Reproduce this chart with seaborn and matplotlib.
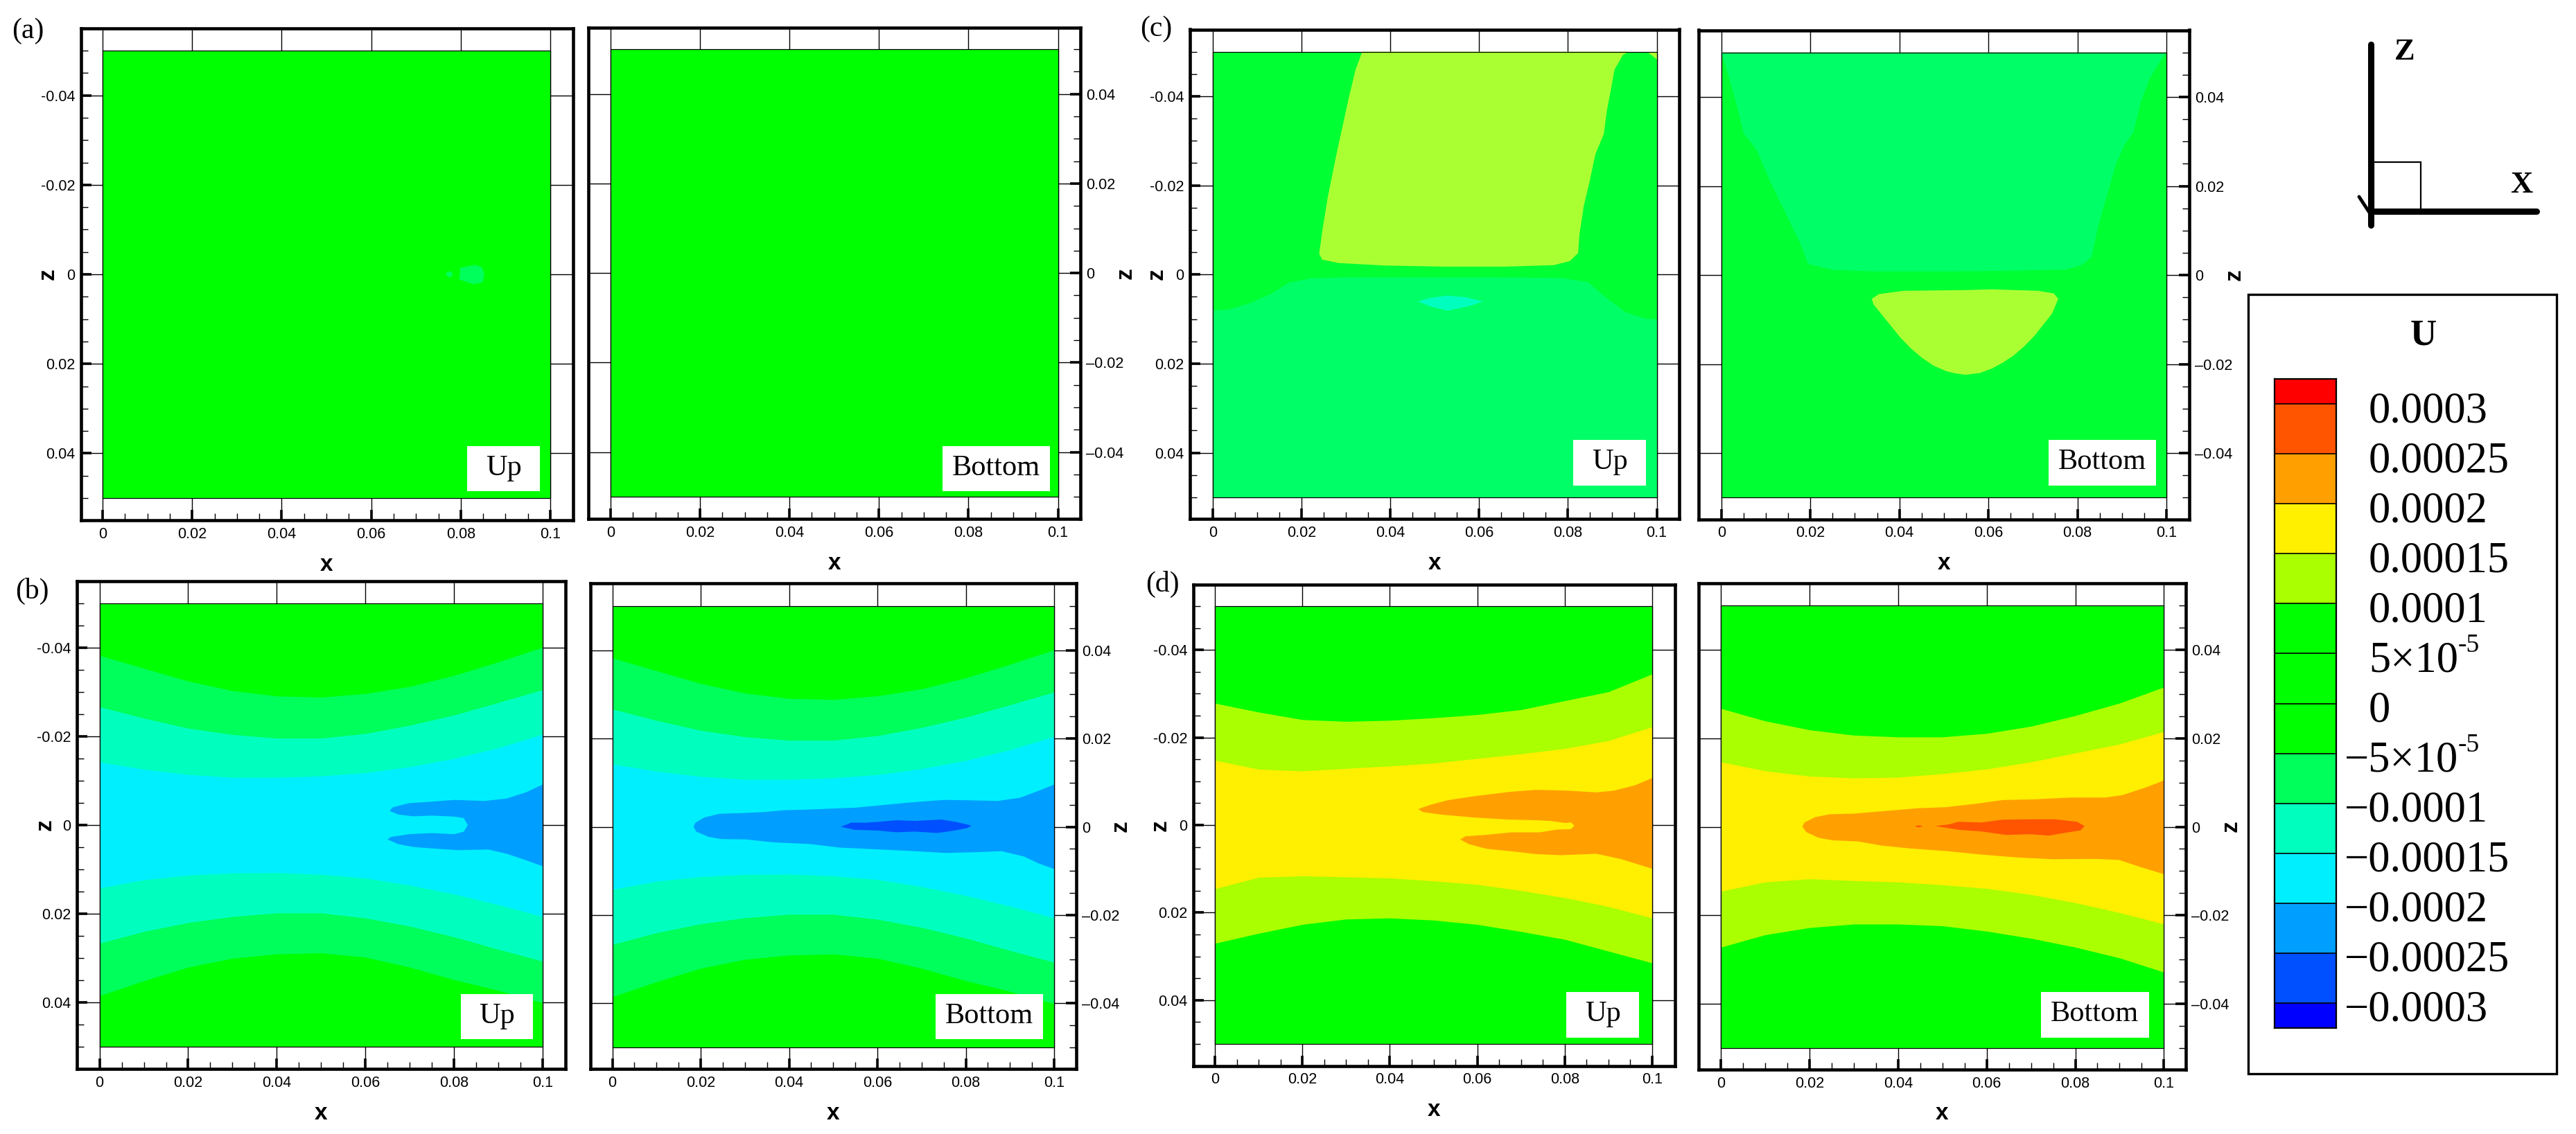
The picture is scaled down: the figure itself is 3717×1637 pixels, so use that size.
import numpy as np
import matplotlib
matplotlib.use("Agg")
import matplotlib.pyplot as plt
from matplotlib.colors import ListedColormap
from matplotlib.patches import Rectangle
from matplotlib.ticker import FixedLocator, FixedFormatter
import seaborn as sns

# ---------- data ----------
stations = [0, .01, .02, .03, .04, .05, .06, .07, .08, .09, .10]

b_outer_up = [-.03825, -.03535, -.03246, -.0303, -.0291, -.02884, -.02965, -.03125, -.03375, -.0368, -.0401]
b_mid_up = [-.02667, -.0241, -.02184, -.0204, -.0196, -.0196, -.02064, -.02249, -.02482, -.02763, -.03053]
b_inner_up = [-.0142, -.0126, -.01138, -.01074, -.01074, -.01106, -.01179, -.01315, -.015, -.01742, -.02048]
b_inner_lo = [.0142, .01235, .0113, .01082, .01074, .01114, .01195, .01356, .01557, .01798, .02064]
b_mid_lo = [.02667, .02401, .022, .02063, .01983, .01983, .02096, .02281, .02522, .02804, .03069]
b_outer_lo = [.0385, .03512, .03206, .03005, .02908, .02884, .0298, .03206, .03488, .0373, .0401]

b_up_blob_x = [.1, .0962, .0919, .0869, .0801, .075, .0699, .0661, .0655, .0674, .0708, .075, .0801, .0822, .0831, .0822, .0801, .075, .0699, .0657, .065, .0674, .0708, .075, .0809, .0877, .0919, .0962, .1]
b_up_blob_z = [-.00913, -.00736, -.00599, -.00543, -.00567, -.00527, -.00495, -.00398, -.00318, -.00237, -.00197, -.00213, -.00189, -.00157, 0, .00149, .00205, .00181, .00205, .0027, .00326, .0043, .00495, .00527, .00567, .00551, .00648, .00792, .00929]

b_bot_blob_x = [.1, .0966, .0923, .0872, .0804, .0753, .0685, .0617, .0549, .0507, .0447, .0388, .0345, .0294, .0243, .0209, .0188, .0184, .019, .0218, .0247, .0303, .0362, .0447, .0515, .06, .0685, .0753, .0821, .0881, .0932, .0966, .1]
b_bot_blob_z = [-.00956, -.00819, -.00658, -.00585, -.00601, -.00609, -.00561, -.00496, -.00432, -.00416, -.00391, -.00375, -.00335, -.00311, -.00295, -.00214, -.00093, 0, .00109, .0023, .00278, .00287, .00351, .00391, .00472, .00512, .00553, .00593, .00577, .00553, .00674, .00835, .00956]
b_bot_core_x = [.0517, .0541, .0575, .0609, .0643, .0685, .0745, .0779, .0813, .0804, .077, .0736, .0685, .0643, .06, .0549]
b_bot_core_z = [0, -.00093, -.00093, -.00117, -.00149, -.00133, -.00165, -.00109, -.00028, .00028, .00093, .00141, .00109, .00125, .00085, .00069]

a_blob_x = [.0799, .0833, .0848, .0853, .0849, .0828, .0797]
a_blob_z = [-.00148, -.00213, -.00148, 0, .0018, .00221, .00115]
a_dot_x = [.0766, .0777, .0783, .0776, .0768]
a_dot_z = [-.00025, -.00074, -.00008, .00082, .00016]

c_up_low_x = [0, .0036, .0084, .0131, .0171, .0219, .0307, .0466, .0625, .0784, .0844, .088, .0928, .0975, .1]
c_up_low_z = [.00794, .00778, .0063, .00424, .00177, .00078, .00053, .00053, .00053, .0007, .0016, .00465, .00835, .00984, .01]
c_up_high_x = [.0337, .0322, .0307, .0279, .0259, .0247, .024, .0247, .0283, .0386, .0522, .0657, .0768, .0804, .0823, .0826, .0836, .0848, .0862, .0881, .0888, .0896, .0905, .0924, .0937]
c_up_high_z = [-.05, -.04597, -.03979, -.02704, -.01716, -.00975, -.00465, -.00333, -.00259, -.00202, -.00177, -.00177, -.0021, -.003, -.00481, -.00893, -.01551, -.02045, -.02704, -.03156, -.03691, -.04103, -.04597, -.04926, -.05]
c_up_corner_x = [.0979, .1, .1]
c_up_corner_z = [-.05, -.05, -.0483]
c_up_spot_x = [.0462, .049, .0529, .0569, .0609, .0577, .0529, .049]
c_up_spot_z = [.00605, .00523, .00473, .00506, .00605, .00712, .00811, .00712]

c_bot_top_x = [0, .1, .0982, .0962, .0942, .0926, .0906, .0886, .0867, .0848, .0832, .0811, .0775, .0664, .0505, .0346, .0251, .0195, .0176, .014, .0108, .008, .0051, .0033, .0017]
c_bot_top_z = [-.05, -.05, -.04737, -.04407, -.03871, -.03213, -.02924, -.02471, -.01812, -.01153, -.00412, -.00231, -.00124, -.00099, -.00082, -.00082, -.00115, -.00247, -.00741, -.01483, -.02142, -.02801, -.03171, -.03871, -.04448]
c_bot_lens_x = [.0338, .0354, .041, .0545, .0608, .0712, .0747, .0757, .0743, .0704, .068, .0656, .0632, .0608, .0581, .0549, .0525, .0505, .0477, .045, .0426, .0402, .0382, .0362, .0342]
c_bot_lens_z = [.00535, .00428, .00354, .00338, .00321, .00354, .00412, .00535, .00865, .01359, .01606, .01812, .0197, .021, .022, .0224, .02207, .02158, .02035, .01853, .01647, .014, .01153, .00906, .00659]

d1_outer_up = [-.02783, -.0258, -.02408, -.02367, -.02392, -.02449, -.02522, -.02636, -.0284, -.03044, -.03451]
d1_inner_up = [-.01479, -.01276, -.01235, -.01292, -.01349, -.01414, -.0152, -.01626, -.01748, -.01928, -.02245]
d1_inner_lo = [.01455, .01194, .01161, .01186, .0121, .01276, .01357, .01496, .01659, .01862, .02123]
d1_outer_lo = [.02702, .02473, .0227, .02148, .02123, .02172, .0227, .02433, .02612, .02881, .0315]
d1_blob_x = [.1, .0961, .0913, .0872, .0807, .0735, .0678, .0597, .0532, .0492, .0465, .0476, .0516, .0589, .067, .0735, .0767, .0803, .0814, .0822, .0814, .0783, .0743, .0678, .0629, .0573, .0561, .0581, .0621, .0678, .0735, .0791, .0872, .0929, .1]
d1_blob_z = [-.01072, -.00909, -.00786, -.00746, -.00786, -.00803, -.00762, -.00664, -.00566, -.0046, -.00363, -.00297, -.0024, -.00175, -.00126, -.0011, -.00094, -.00045, -.00061, .00012, .00094, .00102, .00167, .00167, .00216, .00257, .0033, .00436, .00542, .00599, .00664, .00689, .00656, .00778, .00998]

d2_outer_up = [-.02673, -.02391, -.0219, -.02069, -.02029, -.02029, -.0211, -.02271, -.02512, -.02794, -.03156]
d2_inner_up = [-.01465, -.01264, -.01143, -.01103, -.01119, -.012, -.01304, -.01465, -.01667, -.01868, -.0215]
d2_inner_lo = [.01457, .01248, .01176, .01216, .01248, .01312, .01393, .0153, .01715, .0194, .02198]
d2_outer_lo = [.02721, .0244, .02279, .02198, .02198, .02238, .02359, .0252, .02721, .02963, .03285]
d2_blob_x = [.1, .0963, .0907, .0868, .0788, .0708, .0636, .0572, .0508, .0445, .0397, .0349, .0301, .0245, .0213, .0189, .0184, .0193, .0221, .0253, .0309, .0365, .0429, .0508, .0588, .0668, .0748, .0844, .0899, .0947, .1]
d2_blob_z = [-.01047, -.00902, -.00717, -.0066, -.0066, -.0062, -.00604, -.00515, -.00443, -.00419, -.00378, -.00338, -.00298, -.00282, -.00217, -.00097, -.00008, .00121, .0025, .00306, .0033, .00427, .00491, .00548, .00628, .00692, .00733, .00725, .00749, .0091, .01071]
d2_core_x = [.0484, .0516, .0536, .0588, .0636, .07, .0756, .0804, .0821, .0812, .0772, .074, .07, .0644, .0588, .054, .05]
d2_core_z = [-.00016, -.00056, -.00113, -.00097, -.00161, -.00169, -.00169, -.00113, -.00016, .00081, .00145, .00201, .00169, .00185, .00105, .00072, .00008]
d2_fleck_x = [.0438, .0446, .0457, .0446]
d2_fleck_z = [-.00016, -.00032, -.00016, .00016]

x_major = [0, .02, .04, .06, .08, .1]
x_labels = ["0", "0.02", "0.04", "0.06", "0.08", "0.1"]
x_minor = [.005, .01, .015, .025, .03, .035, .045, .05, .055, .065, .07, .075, .085, .09, .095]
z_major = [-.04, -.02, 0, .02, .04]
z_labels_left = ["-0.04", "-0.02", "0", "0.02", "0.04"]
z_labels_right = ["0.04", "0.02", "0", "\u20130.02", "\u20130.04"]
z_minor = [-.05, -.035, -.03, -.025, -.045, -.015, -.01, -.005, .005, .01, .015, .025, .03, .035, .045, .05]

legend_title = "U"
legend_labels = ["0.0003", "0.00025", "0.0002", "0.00015", "0.0001", "5\u00d710", "0",
                 "\u22125\u00d710", "\u22120.0001", "\u22120.00015", "\u22120.0002", "\u22120.00025", "\u22120.0003"]
legend_colors = ["#FF0000", "#FF5500", "#FFA000", "#FFF000", "#AAFF00", "#00FF00", "#00FF00", "#00FF00",
                 "#00FF5A", "#00FFBF", "#00EFFF", "#009FFF", "#0050FF", "#0000FF"]
legend_spans = [1, 2, 2, 2, 2, 2, 2, 2, 2, 2, 2, 2, 2, 1]

# ---------- style ----------
sns.set_theme(style="ticks")
plt.rcParams["font.family"] = ["Liberation Sans", "DejaVu Sans"]
SERIF = ["Liberation Serif", "DejaVu Serif"]
G0, G1, G2, G3 = "#00FF00", "#00FF5A", "#00FFBF", "#00EFFF"
B1, B2 = "#009FFF", "#0050FF"
CG, CL, CY = "#00FF33", "#00FF66", "#AAFF33"
Y1, Y2, Y3, Y4 = "#AAFF00", "#FFEF00", "#FFA000", "#FF5500"

W, H = 3717, 1637
fig = plt.figure(figsize=(W / 100, H / 100), dpi=100, facecolor="white")


def make_panel(frame, data, side, zlabel_gap):
    l, t, r, b = frame
    dl, dt, dr, db = data
    ax = fig.add_axes([l / W, 1 - b / H, (r - l) / W, (b - t) / H])
    ax.set_xlim(-(dl - l) / (dr - dl) * .1, .1 + (r - dr) / (dr - dl) * .1)
    ax.set_ylim(.05 + (b - db) / (db - dt) * .1, -.05 - (dt - t) / (db - dt) * .1)
    ax.set_axisbelow(True)
    ax.grid(True, which="major", color="black", lw=1.0)
    ax.xaxis.set_major_locator(FixedLocator(x_major))
    ax.xaxis.set_major_formatter(FixedFormatter(x_labels))
    ax.xaxis.set_minor_locator(FixedLocator(x_minor))
    ax.yaxis.set_major_locator(FixedLocator(z_major))
    ax.yaxis.set_major_formatter(FixedFormatter(z_labels_left if side == "left" else z_labels_right))
    ax.yaxis.set_minor_locator(FixedLocator(z_minor))
    ax.tick_params(axis="x", which="major", direction="in", length=11, width=2.6, pad=7, labelsize=15.5, top=False, bottom=True, colors="black")
    ax.tick_params(axis="x", which="minor", direction="in", length=7, width=1.0, top=False, bottom=True, colors="black")
    ax.tick_params(axis="y", which="major", direction="in", length=11, width=2.6, pad=6, labelsize=15.5, colors="black",
                   left=side == "left", right=side == "right", labelleft=side == "left", labelright=side == "right")
    ax.tick_params(axis="y", which="minor", direction="in", length=7, width=1.0, colors="black",
                   left=side == "left", right=side == "right")
    for s in ax.spines.values():
        s.set_linewidth(3.3)
        s.set_color("black")
    ax.text(.5, -64 / (b - t), "x", transform=ax.transAxes, ha="center", va="center", fontsize=24, fontweight="bold", color="black")
    zx = -zlabel_gap / (r - l) if side == "left" else 1 + zlabel_gap / (r - l)
    ax.text(zx, .5, "z", transform=ax.transAxes, rotation=90, ha="center", va="center", fontsize=24, fontweight="bold", color="black")
    return ax


def base(ax, color):
    ax.fill_between([0, .1], -.05, .05, color=color, lw=0, zorder=2)
    ax.add_patch(Rectangle((0, -.05), .1, .1, fill=False, ec="black", lw=0.9, zorder=6))


def band(ax, up, lo, color):
    ax.fill_between(stations, up, lo, color=color, lw=0, zorder=3)


def poly(ax, xs, zs, color, z=4):
    ax.fill(xs, zs, color=color, lw=0, zorder=z)


# (a)
ax = make_panel((116.5, 41, 826.5, 751), (148, 73, 794, 719), "left", 47)
base(ax, G0)
poly(ax, a_blob_x, a_blob_z, G1)
poly(ax, a_dot_x, a_dot_z, G1)
ax = make_panel((849, 40, 1559, 749), (881, 71, 1526.5, 717.3), "right", 65)
base(ax, G0)

# (b)
ax = make_panel((111, 839, 816, 1543), (143.6, 871, 783, 1511), "left", 46)
base(ax, G0)
band(ax, b_outer_up, b_outer_lo, G1)
band(ax, b_mid_up, b_mid_lo, G2)
band(ax, b_inner_up, b_inner_lo, G3)
poly(ax, b_up_blob_x, b_up_blob_z, B1)
ax = make_panel((851.5, 842, 1553, 1543), (883.5, 875, 1521, 1512), "right", 64)
base(ax, G0)
band(ax, b_outer_up, b_outer_lo, G1)
band(ax, b_mid_up, b_mid_lo, G2)
band(ax, b_inner_up, b_inner_lo, G3)
poly(ax, b_bot_blob_x, b_bot_blob_z, B1)
poly(ax, b_bot_core_x, b_bot_core_z, B2, 5)

# (c)
ax = make_panel((1716.5, 42.5, 2423, 749), (1749.7, 74.6, 2390.5, 718), "left", 47)
base(ax, CG)
ax.fill_between(c_up_low_x, c_up_low_z, .05, color=CL, lw=0, zorder=3)
poly(ax, c_up_high_x, c_up_high_z, CY)
poly(ax, c_up_corner_x, c_up_corner_z, CY)
poly(ax, c_up_spot_x, c_up_spot_z, G2)
ax = make_panel((2451, 43.5, 3159, 749.5), (2483.7, 75.7, 3126, 718.4), "right", 65)
base(ax, CG)
poly(ax, c_bot_top_x, c_bot_top_z, CL)
poly(ax, c_bot_lens_x, c_bot_lens_z, CY)

# (d)
ax = make_panel((1721.6, 844.4, 2417, 1538.7), (1753, 875, 2384, 1507), "left", 47)
base(ax, G0)
band(ax, d1_outer_up, d1_outer_lo, Y1)
band(ax, d1_inner_up, d1_inner_lo, Y2)
poly(ax, d1_blob_x, d1_blob_z, Y3)
ax = make_panel((2451, 842, 3154, 1544), (2483, 874, 3122.4, 1513), "right", 65)
base(ax, G0)
band(ax, d2_outer_up, d2_outer_lo, Y1)
band(ax, d2_inner_up, d2_inner_lo, Y2)
poly(ax, d2_blob_x, d2_blob_z, Y3)
poly(ax, d2_core_x, d2_core_z, Y4, 5)
poly(ax, d2_fleck_x, d2_fleck_z, Y4, 5)

# overlay in page pixels
ov = fig.add_axes([0, 0, 1, 1], zorder=10)
ov.set_xlim(0, W)
ov.set_ylim(H, 0)
ov.axis("off")
ov.patch.set_alpha(0)

for txt, x, y in [("(a)", 40, 45), ("(b)", 46, 853), ("(c)", 1668, 42), ("(d)", 1677, 843)]:
    ov.text(x, y, txt, ha="center", va="center", fontsize=30, family=SERIF, color="black")

boxes = [("Up", 674, 644, 779, 709), ("Bottom", 1360, 644, 1515, 709),
         ("Up", 664.5, 1435, 769, 1500), ("Bottom", 1350, 1435, 1504.6, 1500),
         ("Up", 2270, 635, 2375, 701), ("Bottom", 2955.6, 635, 3110.7, 701),
         ("Up", 2260, 1431.6, 2365, 1497.5), ("Bottom", 2945, 1431.6, 3100.5, 1497.5)]
for txt, x0, y0, x1, y1 in boxes:
    ov.add_patch(Rectangle((x0, y0), x1 - x0, y1 - y0, fc="white", ec="none"))
    ov.text((x0 + x1) / 2, (y0 + y1) / 2 - 1, txt, ha="center", va="center", fontsize=30.5, family=SERIF, color="black")

# coordinate triad
ov.plot([3421, 3421], [64, 325], color="black", lw=6.5, solid_capstyle="round")
ov.plot([3421, 3660], [305, 305], color="black", lw=6.5, solid_capstyle="round")
ov.add_patch(Rectangle((3425, 234), 68, 71, fill=False, ec="black", lw=1.6))
ov.plot([3404, 3421], [284, 310], color="black", lw=3.5)
ov.text(3470, 75, "Z", ha="center", va="center", fontsize=32, fontweight="bold", family=SERIF, color="black")
ov.text(3638, 267, "X", ha="center", va="center", fontsize=32, fontweight="bold", family=SERIF, color="black")

# legend
ov.add_patch(Rectangle((3244, 425), 445, 1125, fc="none", ec="black", lw=2.4))
ov.text(3497, 485, legend_title, ha="center", va="center", fontsize=38, fontweight="bold", family=SERIF, color="black")
l0, t0, r0, b0 = 3281.5, 547, 3371, 1484
cax = fig.add_axes([l0 / W, 1 - b0 / H, (r0 - l0) / W, (b0 - t0) / H], zorder=11)
cells = np.repeat(np.arange(len(legend_colors)), legend_spans).reshape(-1, 1)
sns.heatmap(cells, cmap=ListedColormap(legend_colors), vmin=-.5, vmax=len(legend_colors) - .5,
            cbar=False, xticklabels=False, yticklabels=False, ax=cax)
cax.hlines(np.cumsum(legend_spans)[:-1], 0, 1, color="black", lw=1.2)
for s in cax.spines.values():
    s.set_visible(True)
    s.set_linewidth(1.6)
    s.set_color("black")
n_cells = sum(legend_spans)
for k, txt in zip(np.cumsum(legend_spans)[:-1], legend_labels):
    yy = t0 + (b0 - t0) * k / n_cells + 11
    xx = 3383 if txt.startswith("\u2212") else 3418
    ov.text(xx, yy, txt, ha="left", va="center", fontsize=45, family=SERIF, color="black")
    if txt.endswith("10"):
        ov.text(3547, yy - 23, "-5", ha="left", va="center", fontsize=27, family=SERIF, color="black")

fig.savefig("out.png", dpi=100, facecolor="white")
